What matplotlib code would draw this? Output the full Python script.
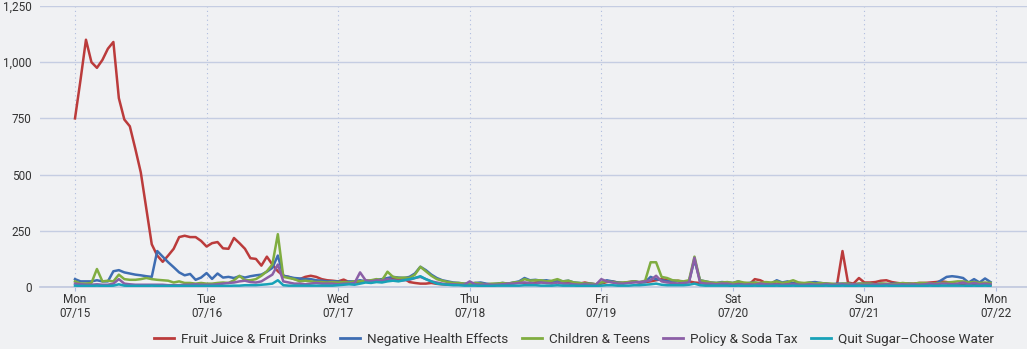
import matplotlib
matplotlib.use("Agg")
import matplotlib.pyplot as plt
from matplotlib.lines import Line2D
from matplotlib.ticker import FuncFormatter
import numpy as np

day_labels = ["Mon\n07/15", "Tue\n07/16", "Wed\n07/17", "Thu\n07/18",
              "Fri\n07/19", "Sat\n07/20", "Sun\n07/21", "Mon\n07/22"]
series_names = ["Fruit Juice & Fruit Drinks", "Negative Health Effects",
                "Children & Teens", "Policy & Soda Tax", "Quit Sugar\u2013Choose Water"]
series_colors = ["#bb3b3b", "#3e6db2", "#80ad40", "#8b5fa6", "#18a2b8"]

fruit_juice = [
    750, 920, 1100, 1000, 975, 1010, 1060, 1090, 840, 745, 715, 615, 510, 350, 190, 140, 112, 140, 170, 222, 228, 222, 222, 205,
    180, 195, 200, 172, 170, 218, 195, 170, 128, 125, 95, 135, 100, 70, 50, 45, 35, 35, 45, 50, 45, 35, 30, 28,
    25, 33, 22, 22, 20, 28, 25, 30, 32, 30, 38, 35, 38, 22, 18, 15, 15, 18, 14, 12, 10, 12, 10, 10,
    12, 10, 15, 12, 10, 12, 15, 14, 18, 20, 18, 15, 20, 22, 18, 20, 22, 25, 20, 18, 15, 20, 15, 12,
    15, 22, 25, 20, 18, 22, 25, 20, 22, 25, 30, 35, 30, 25, 28, 22, 25, 20, 18, 15, 12, 15, 15, 12,
    12, 15, 15, 12, 35, 30, 18, 15, 15, 12, 15, 18, 15, 12, 15, 12, 12, 15, 12, 10, 160, 20, 15, 40,
    20, 20, 22, 28, 30, 22, 18, 15, 15, 15, 18, 18, 20, 22, 25, 22, 15, 12, 10, 12, 10, 10, 12, 10,
]
negative_health = [
    35, 25, 25, 25, 30, 25, 25, 70, 75, 65, 60, 55, 52, 48, 45, 160, 135, 110, 88, 65, 52, 58, 32, 42,
    62, 36, 60, 42, 45, 40, 48, 42, 48, 52, 55, 68, 85, 140, 50, 45, 40, 38, 35, 35, 30, 28, 25, 25,
    25, 20, 25, 25, 30, 25, 28, 32, 35, 40, 45, 42, 40, 45, 60, 90, 75, 55, 40, 30, 25, 20, 18, 15,
    15, 18, 20, 15, 12, 15, 18, 15, 20, 25, 40, 30, 32, 28, 30, 25, 28, 25, 28, 20, 18, 15, 15, 12,
    18, 30, 25, 20, 18, 20, 25, 20, 22, 45, 35, 30, 25, 28, 25, 20, 25, 120, 30, 25, 20, 18, 22, 20,
    18, 25, 15, 18, 20, 15, 18, 15, 30, 20, 25, 15, 18, 15, 20, 22, 18, 15, 12, 15, 15, 15, 12, 15,
    15, 15, 12, 15, 12, 15, 15, 12, 15, 12, 15, 15, 12, 15, 30, 45, 48, 45, 40, 20, 35, 20, 38, 22,
]
children_teens = [
    25, 15, 15, 18, 80, 25, 28, 25, 55, 35, 32, 32, 35, 40, 35, 32, 30, 28, 20, 25, 18, 18, 15, 18,
    15, 15, 18, 20, 18, 30, 50, 30, 30, 35, 50, 70, 100, 235, 45, 40, 35, 25, 28, 25, 22, 22, 20, 22,
    20, 22, 20, 25, 25, 28, 30, 35, 30, 68, 45, 40, 42, 40, 55, 90, 70, 50, 35, 28, 22, 18, 18, 15,
    15, 18, 15, 12, 15, 15, 18, 15, 20, 22, 35, 28, 30, 30, 25, 28, 35, 25, 28, 20, 18, 15, 15, 12,
    20, 25, 22, 18, 20, 22, 25, 22, 28, 110, 110, 45, 40, 30, 28, 25, 30, 135, 30, 25, 20, 18, 20, 22,
    18, 25, 20, 18, 20, 18, 22, 20, 25, 18, 22, 30, 20, 18, 20, 15, 18, 15, 15, 12, 15, 15, 12, 15,
    15, 15, 12, 15, 15, 12, 15, 18, 15, 15, 18, 18, 15, 15, 18, 20, 22, 25, 25, 20, 22, 18, 20, 18,
]
policy_soda = [
    15, 12, 10, 10, 12, 10, 10, 15, 35, 15, 12, 10, 10, 10, 10, 10, 10, 8, 8, 8, 10, 10, 12, 10,
    10, 10, 12, 15, 18, 20, 25, 28, 22, 20, 25, 40, 55, 100, 25, 20, 15, 15, 12, 15, 18, 15, 15, 15,
    12, 15, 15, 18, 65, 30, 25, 30, 28, 35, 30, 28, 30, 32, 40, 45, 35, 25, 20, 15, 12, 12, 10, 10,
    25, 12, 10, 12, 10, 10, 12, 15, 15, 18, 20, 18, 15, 20, 18, 15, 20, 15, 15, 12, 10, 12, 10, 10,
    35, 25, 20, 15, 15, 18, 20, 22, 25, 30, 50, 25, 20, 18, 15, 18, 20, 130, 20, 15, 15, 12, 15, 15,
    10, 12, 10, 12, 10, 15, 12, 10, 12, 10, 12, 12, 10, 10, 12, 10, 10, 12, 10, 10, 12, 10, 12, 10,
    10, 10, 12, 10, 12, 10, 10, 12, 10, 12, 10, 12, 15, 12, 15, 15, 12, 15, 20, 12, 18, 12, 15, 12,
]
quit_sugar = [
    6, 5, 5, 5, 6, 5, 5, 6, 12, 6, 5, 5, 5, 5, 6, 5, 5, 5, 5, 5, 5, 5, 5, 5,
    5, 5, 5, 5, 5, 6, 6, 8, 8, 8, 10, 12, 15, 30, 8, 6, 6, 6, 6, 6, 6, 6, 6, 6,
    8, 10, 12, 10, 15, 20, 18, 22, 20, 25, 28, 25, 30, 35, 40, 48, 35, 25, 15, 12, 10, 8, 8, 6,
    6, 6, 5, 5, 5, 6, 6, 6, 6, 6, 8, 8, 8, 6, 6, 6, 8, 6, 6, 6, 5, 5, 5, 5,
    6, 8, 8, 6, 6, 6, 8, 8, 10, 12, 15, 10, 8, 8, 8, 8, 10, 15, 8, 6, 6, 6, 6, 6,
    5, 6, 5, 5, 6, 5, 5, 5, 6, 5, 5, 6, 5, 5, 5, 5, 5, 6, 5, 5, 6, 5, 5, 6,
    5, 5, 5, 5, 6, 5, 5, 5, 5, 5, 5, 5, 6, 5, 6, 6, 6, 6, 6, 5, 6, 5, 6, 5,
]
all_series = [fruit_juice, negative_health, children_teens, policy_soda, quit_sugar]

hours = np.arange(len(fruit_juice))
day_ticks = np.arange(0, 24 * len(day_labels), 24)

plt.rcParams['font.family'] = ['Roboto', 'DejaVu Sans']
bg = "#f0f1f3"
fig = plt.figure(figsize=(10.27, 3.49), dpi=100, facecolor=bg)
W, H = 1027, 349
ax = fig.add_axes([40 / W, (H - 287) / H, (W - 40) / W, (287 - 6) / H])
ax.set_facecolor(bg)

for vals, col in zip(all_series, series_colors):
    ax.plot(hours, vals, color=col, lw=1.8, solid_joinstyle='round', zorder=3)

px_per_hr = 131.57 / 24
ax.set_xlim(-35 / px_per_hr, (1027 - 75) / px_per_hr)
ax.set_ylim(0, 1250)
ax.set_yticks(np.arange(0, 1251, 250))
ax.yaxis.set_major_formatter(FuncFormatter(lambda v, p: f"{int(v):,}"))
ax.set_xticks(day_ticks)
ax.set_xticklabels(day_labels, linespacing=1.15)

ax.grid(axis='y', color="#c5cde2", lw=1.0, zorder=1)
for d in day_ticks:
    ax.axvline(d, color="#afbcde", lw=0.8, ls=(0, (1, 3)), zorder=1)
for s in ax.spines.values():
    s.set_visible(False)
ax.tick_params(axis='y', length=0, pad=6, labelsize=8.5, labelcolor="#333333")
ax.tick_params(axis='x', length=3, color="#afbcde", pad=1, labelsize=8.5, labelcolor="#333333")
ax.axhline(0, color="#c0c8de", lw=1.2, zorder=2, clip_on=False)

handles = [Line2D([], [], color=c, lw=2) for c in series_colors]
fig.legend(handles, series_names, loc='lower center', bbox_to_anchor=(0.559, -0.025),
           ncol=5, frameon=False, handlelength=1.5, handletextpad=0.5,
           columnspacing=1.0, prop={'family': ['Roboto', 'DejaVu Sans'], 'size': 9.7},
           labelcolor="#333333")

fig.savefig("out.png", dpi=100, facecolor=bg)
